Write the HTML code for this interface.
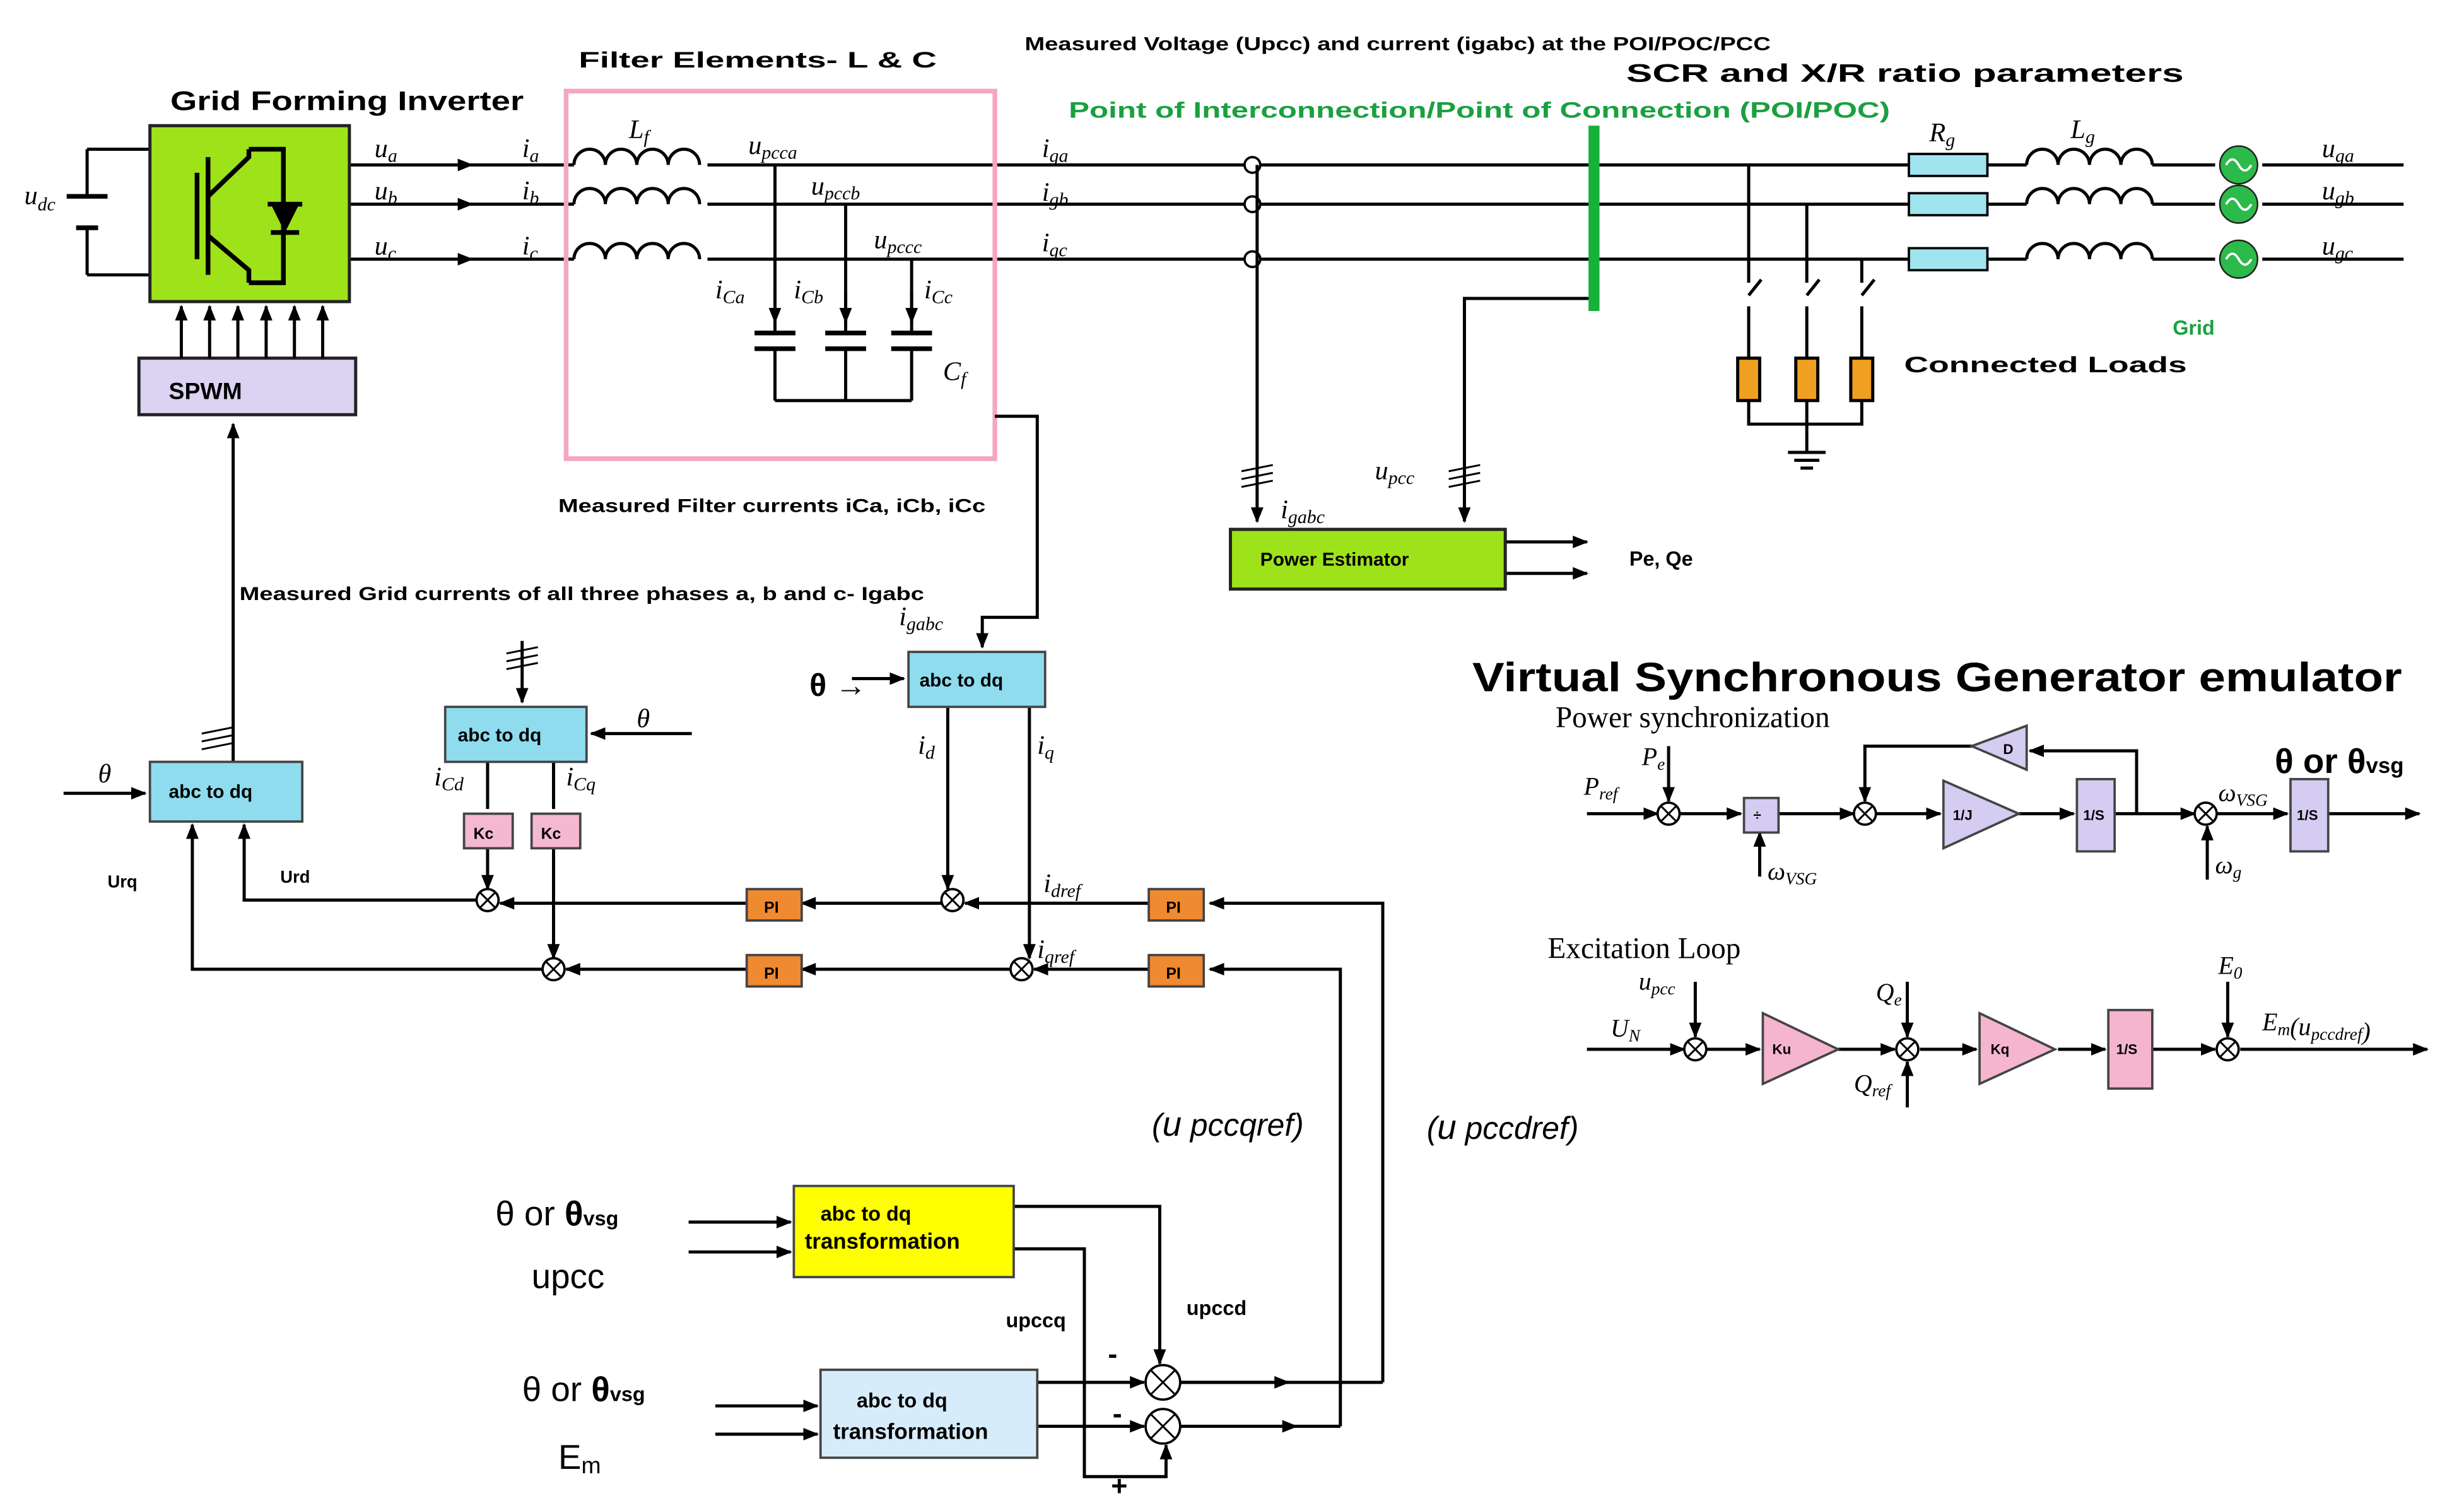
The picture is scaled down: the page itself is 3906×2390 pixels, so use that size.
<!DOCTYPE html>
<html><head><meta charset="utf-8"><style>
html,body{margin:0;padding:0;background:#fff;}
svg{display:block}
.b{font-family:"Liberation Sans",sans-serif;font-weight:bold;}
.m{font-family:"Liberation Serif",serif;font-style:italic;}
.s{font-family:"Liberation Serif",serif;}
</style></head><body>
<svg width="3906" height="2390" viewBox="0 0 1568 960" xmlns="http://www.w3.org/2000/svg">
<defs><marker id="a" viewBox="0 0 10 10" refX="9" refY="5" markerWidth="5" markerHeight="5" orient="auto"><path d="M0,1 L10,5 L0,9 z" fill="#000"/></marker></defs>
<g stroke="#000" stroke-width="2" fill="none">
<path d="M55,95 H95 M55,175 H95 M55,95 V125 M55,145 V175"/>
<path d="M42,125 H68 M48,145 H62" stroke-width="3"/>
<path d="M300,105 H365 M300,130 H365 M300,165 H365"/>
<path d="M450,105 H1215 M450,130 H1215 M450,165 H1215"/>
<path d="M1265,105 H1290 M1265,130 H1290 M1265,165 H1290 M1370,105 H1410 M1370,130 H1410 M1370,165 H1410 M1440,105 H1530 M1440,130 H1530 M1440,165 H1530"/>
<path d="M365,105 a10,10 0 0 1 20,0 a10,10 0 0 1 20,0 a10,10 0 0 1 20,0 a10,10 0 0 1 20,0 M365,130 a10,10 0 0 1 20,0 a10,10 0 0 1 20,0 a10,10 0 0 1 20,0 a10,10 0 0 1 20,0 M365,165 a10,10 0 0 1 20,0 a10,10 0 0 1 20,0 a10,10 0 0 1 20,0 a10,10 0 0 1 20,0"/>
<path d="M1290,105 a10,10 0 0 1 20,0 a10,10 0 0 1 20,0 a10,10 0 0 1 20,0 a10,10 0 0 1 20,0 M1290,130 a10,10 0 0 1 20,0 a10,10 0 0 1 20,0 a10,10 0 0 1 20,0 a10,10 0 0 1 20,0 M1290,165 a10,10 0 0 1 20,0 a10,10 0 0 1 20,0 a10,10 0 0 1 20,0 a10,10 0 0 1 20,0"/>
<path d="M493,105 V212 M493,222 V255 M538,130 V212 M538,222 V255 M580,165 V212 M580,222 V255 M493,255 H580"/>
<path d="M480,212 H506 M480,222 H506 M525,212 H551 M525,222 H551 M567,212 H593 M567,222 H593" stroke-width="3"/>
</g>
<g stroke="#000" stroke-width="2" fill="none" marker-end="url(#a)">
<path d="M222,105 H300"/><path d="M222,130 H300"/><path d="M222,165 H300"/>
<path d="M493,185 V205"/><path d="M538,185 V205"/><path d="M580,185 V205"/>
</g>
<rect x="360" y="58" width="273" height="234" fill="none" stroke="#f4a6c4" stroke-width="3"/>
<rect x="95" y="80" width="127" height="112" fill="#9ee21a" stroke="#222" stroke-width="2"/>
<g stroke="#000" stroke-width="3" fill="none">
<path d="M125,110 V165 M132,100 V175 M132,125 L158,100 V95 M132,150 L158,172 V180 M158,95 H180 V180 H158"/>
<path d="M170,130 H192 M172,148 H190"/>
</g>
<path d="M172,130 L190,130 L181,148 z" fill="#000"/>
<rect x="88" y="228" width="138" height="36" fill="#dcd3f3" stroke="#222" stroke-width="2"/>
<text x="107" y="254" class="b" font-size="15">SPWM</text>
<g stroke="#000" stroke-width="2" marker-end="url(#a)">
<path d="M115,228 V195"/><path d="M133,228 V195"/><path d="M151,228 V195"/><path d="M169,228 V195"/><path d="M187,228 V195"/><path d="M205,228 V195"/>
</g>
<g fill="#fff" stroke="#000" stroke-width="1.5"><circle cx="797" cy="105" r="5"/><circle cx="797" cy="130" r="5"/><circle cx="797" cy="165" r="5"/></g>
<g stroke="#000" stroke-width="2" fill="none" marker-end="url(#a)">
<path d="M800,105 V332"/>
<path d="M1015,190 H932 V332"/>
<path d="M958,345 H1010"/><path d="M958,365 H1010"/>
</g>
<rect x="1011" y="80" width="7" height="118" fill="#17b03a"/>
<g fill="#9fe4ee" stroke="#000" stroke-width="1.5"><rect x="1215" y="98" width="50" height="14"/><rect x="1215" y="123" width="50" height="14"/><rect x="1215" y="158" width="50" height="14"/></g>
<g fill="#2cba4a" stroke="#222"><circle cx="1425" cy="105" r="12"/><circle cx="1425" cy="130" r="12"/><circle cx="1425" cy="165" r="12"/></g>
<g stroke="#fff" stroke-width="1.5" fill="none"><path d="M1417,105 q4,-7 8,0 t8,0 M1417,130 q4,-7 8,0 t8,0 M1417,165 q4,-7 8,0 t8,0"/></g>
<g stroke="#000" stroke-width="2" fill="none">
<path d="M1113,105 V180 M1113,188 l8,-10 M1113,195 V228 M1150,130 V180 M1150,188 l8,-10 M1150,195 V228 M1185,165 V180 M1185,188 l8,-10 M1185,195 V228"/>
<path d="M1113,255 V270 H1185 V255 M1150,255 V288 M1138,288 H1162 M1142,293 H1158 M1146,298 H1154"/>
</g>
<g fill="#f0a020" stroke="#000" stroke-width="2"><rect x="1106" y="228" width="14" height="27"/><rect x="1143" y="228" width="14" height="27"/><rect x="1178" y="228" width="14" height="27"/></g>
<rect x="783" y="337" width="175" height="38" fill="#9ee21a" stroke="#222" stroke-width="2"/>
<text x="802" y="360" class="b" font-size="12">Power Estimator</text>
<text x="108" y="70" class="b" font-size="17" textLength="225" lengthAdjust="spacingAndGlyphs">Grid Forming Inverter</text>
<text x="368" y="43" class="b" font-size="14" textLength="228" lengthAdjust="spacingAndGlyphs">Filter Elements- L &amp; C</text>
<text x="652" y="32" class="b" font-size="12" textLength="475" lengthAdjust="spacingAndGlyphs">Measured Voltage (Upcc) and current (igabc) at the POI/POC/PCC</text>
<text x="1035" y="52" class="b" font-size="16" textLength="355" lengthAdjust="spacingAndGlyphs">SCR and X/R ratio parameters</text>
<text x="680" y="75" class="b" font-size="14" fill="#1aa040" textLength="523" lengthAdjust="spacingAndGlyphs">Point of Interconnection/Point of Connection (POI/POC)</text>
<text x="1383" y="213" class="b" font-size="13" fill="#1aa040">Grid</text>
<text x="1212" y="237" class="b" font-size="14" textLength="180" lengthAdjust="spacingAndGlyphs">Connected Loads</text>
<text x="355" y="326" class="b" font-size="12" textLength="272" lengthAdjust="spacingAndGlyphs">Measured Filter currents iCa, iCb, iCc</text>
<text x="152" y="382" class="b" font-size="12" textLength="436" lengthAdjust="spacingAndGlyphs">Measured Grid currents of all three phases a, b and c- Igabc</text>
<text x="1037" y="360" class="b" font-size="13">Pe, Qe</text>
<g class="m" font-size="17">
<text x="15" y="130">u<tspan font-size="12" dy="4">dc</tspan></text>
<text x="238" y="100">u<tspan font-size="12" dy="3">a</tspan></text>
<text x="238" y="127">u<tspan font-size="12" dy="3">b</tspan></text>
<text x="238" y="162">u<tspan font-size="12" dy="3">c</tspan></text>
<text x="332" y="100">i<tspan font-size="12" dy="3">a</tspan></text>
<text x="332" y="127">i<tspan font-size="12" dy="3">b</tspan></text>
<text x="332" y="162">i<tspan font-size="12" dy="3">c</tspan></text>
<text x="400" y="88">L<tspan font-size="12" dy="3">f</tspan></text>
<text x="476" y="98">u<tspan font-size="12" dy="3">pcca</tspan></text>
<text x="516" y="124">u<tspan font-size="12" dy="3">pccb</tspan></text>
<text x="556" y="158">u<tspan font-size="12" dy="3">pccc</tspan></text>
<text x="455" y="190">i<tspan font-size="12" dy="3">Ca</tspan></text>
<text x="505" y="190">i<tspan font-size="12" dy="3">Cb</tspan></text>
<text x="588" y="190">i<tspan font-size="12" dy="3">Cc</tspan></text>
<text x="600" y="242">C<tspan font-size="12" dy="3">f</tspan></text>
<text x="663" y="100">i<tspan font-size="12" dy="3">ga</tspan></text>
<text x="663" y="128">i<tspan font-size="12" dy="3">gb</tspan></text>
<text x="663" y="160">i<tspan font-size="12" dy="3">gc</tspan></text>
<text x="1228" y="90">R<tspan font-size="12" dy="3">g</tspan></text>
<text x="1318" y="88">L<tspan font-size="12" dy="3">g</tspan></text>
<text x="1478" y="100">u<tspan font-size="12" dy="3">ga</tspan></text>
<text x="1478" y="127">u<tspan font-size="12" dy="3">gb</tspan></text>
<text x="1478" y="162">u<tspan font-size="12" dy="3">gc</tspan></text>
<text x="815" y="330">i<tspan font-size="12" dy="3">gabc</tspan></text>
<text x="875" y="305">u<tspan font-size="12" dy="3">pcc</tspan></text>
<text x="572" y="398">i<tspan font-size="12" dy="3">gabc</tspan></text>
<text x="405" y="463">θ</text>
<text x="62" y="498">θ</text>
<text x="276" y="500">i<tspan font-size="12" dy="3">Cd</tspan></text>
<text x="360" y="500">i<tspan font-size="12" dy="3">Cq</tspan></text>
<text x="584" y="480">i<tspan font-size="12" dy="3">d</tspan></text>
<text x="660" y="480">i<tspan font-size="12" dy="3">q</tspan></text>
<text x="664" y="568">i<tspan font-size="12" dy="3">dref</tspan></text>
<text x="660" y="610">i<tspan font-size="12" dy="3">qref</tspan></text>
</g>
<g stroke="#000" stroke-width="1.2"><path d="M790,300 l20,-4 M790,305 l20,-4 M790,310 l20,-4 M922,300 l20,-4 M922,305 l20,-4 M922,310 l20,-4 M322,416 l20,-4 M322,421 l20,-4 M322,426 l20,-4 M128,467 l20,-4 M128,472 l20,-4 M128,477 l20,-4"/></g>
<g stroke="#000" stroke-width="2" fill="none">
<path d="M310,485 V515 M352,485 V515"/>
<path d="M751,880 H880 M751,908 H853"/>
</g>
<g stroke="#000" stroke-width="2" fill="none" marker-end="url(#a)">
<path d="M148,485 V270"/>
<path d="M633,265 H660 V393 H625 V412"/>
<path d="M542,432 H575"/>
<path d="M332,408 V447"/>
<path d="M440,467 H376"/>
<path d="M40,505 H92"/>
<path d="M310,540 V566"/><path d="M352,540 V610"/>
<path d="M603,450 V566"/><path d="M655,450 V610"/>
<path d="M303,573 H155 V525"/>
<path d="M345,617 H122 V525"/>
<path d="M475,575 H318"/><path d="M475,617 H360"/><path d="M599,575 H510"/><path d="M643,617 H510"/>
<path d="M731,575 H614"/><path d="M731,617 H658"/>
<path d="M880,880 V575 H770"/><path d="M853,908 V617 H770"/>
<path d="M438,778 H503"/><path d="M438,797 H503"/>
<path d="M455,895 H520"/><path d="M455,913 H520"/>
<path d="M645,768 H738 V868"/>
<path d="M645,795 H690 V940 H742 V920"/>
<path d="M751,880 H820"/><path d="M751,908 H825"/>
<path d="M660,880 H728"/><path d="M660,908 H728"/>
</g>
<g fill="#fff" stroke="#000" stroke-width="1.5">
<circle cx="310" cy="573" r="7"/><circle cx="352" cy="617" r="7"/><circle cx="606" cy="573" r="7"/><circle cx="650" cy="617" r="7"/>
<circle cx="740" cy="880" r="11"/><circle cx="740" cy="908" r="11"/>
</g>
<g stroke="#000" stroke-width="1.2"><path d="M305,568 l10,10 M315,568 l-10,10 M347,612 l10,10 M357,612 l-10,10 M601,568 l10,10 M611,568 l-10,10 M645,612 l10,10 M655,612 l-10,10 M732,872 l16,16 M748,872 l-16,16 M732,900 l16,16 M748,900 l-16,16"/></g>
<g stroke="#444" stroke-width="1.5">
<rect x="95" y="485" width="97" height="38" fill="#8fdcef"/>
<rect x="283" y="450" width="90" height="35" fill="#8fdcef"/>
<rect x="578" y="415" width="87" height="35" fill="#8fdcef"/>
<rect x="295" y="518" width="31" height="22" fill="#f4b8d0"/>
<rect x="338" y="518" width="31" height="22" fill="#f4b8d0"/>
<rect x="475" y="566" width="35" height="20" fill="#f08a30"/>
<rect x="475" y="608" width="35" height="20" fill="#f08a30"/>
<rect x="731" y="566" width="35" height="20" fill="#f08a30"/>
<rect x="731" y="608" width="35" height="20" fill="#f08a30"/>
<rect x="505" y="755" width="140" height="58" fill="#ffff00"/>
<rect x="522" y="872" width="138" height="56" fill="#d6ecfa"/>
</g>
<g class="b" font-size="12">
<text x="107" y="508">abc to dq</text>
<text x="291" y="472">abc to dq</text>
<text x="585" y="437">abc to dq</text>
<text x="301" y="534" font-size="10">Kc</text><text x="344" y="534" font-size="10">Kc</text>
<text x="486" y="581" font-size="10">PI</text><text x="486" y="623" font-size="10">PI</text>
<text x="742" y="581" font-size="10">PI</text><text x="742" y="623" font-size="10">PI</text>
<text x="68" y="565" font-size="11">Urq</text>
<text x="178" y="562" font-size="11">Urd</text>
<text x="522" y="777" font-size="13">abc to dq</text>
<text x="512" y="795" font-size="14">transformation</text>
<text x="545" y="896" font-size="13">abc to dq</text>
<text x="530" y="916" font-size="14">transformation</text>
<text x="640" y="845" font-size="13">upccq</text>
<text x="755" y="837" font-size="13">upccd</text>
<text x="705" y="868" font-size="18">-</text>
<text x="708" y="906" font-size="18">-</text>
<text x="707" y="952" font-size="18">+</text>
</g>
<text x="515" y="443" class="b" font-size="20">θ →</text>
<g font-family="Liberation Sans,sans-serif" font-size="22">
<text x="315" y="780">θ or <tspan font-weight="bold">θ</tspan><tspan font-size="13" font-weight="bold">vsg</tspan></text>
<text x="338" y="820">upcc</text>
<text x="332" y="892">θ or <tspan font-weight="bold">θ</tspan><tspan font-size="13" font-weight="bold">vsg</tspan></text>
<text x="355" y="935">E<tspan font-size="15" dy="3">m</tspan></text>
</g>
<g font-family="Liberation Sans,sans-serif" font-style="italic" font-size="20">
<text x="733" y="723">(<tspan font-size="22">u</tspan> pccqref)</text>
<text x="908" y="725">(<tspan font-size="22">u</tspan> pccdref)</text>
</g>
<text x="937" y="440" class="b" font-size="26" textLength="592" lengthAdjust="spacingAndGlyphs">Virtual Synchronous Generator emulator</text>
<text x="990" y="463" class="s" font-size="19">Power synchronization</text>
<text x="1448" y="492" class="b" font-size="22">θ or θ<tspan font-size="14">vsg</tspan></text>
<g stroke="#000" stroke-width="2" fill="none" marker-end="url(#a)">
<path d="M1010,518 H1055"/><path d="M1069,518 H1108"/><path d="M1132,518 H1180"/><path d="M1194,518 H1235"/><path d="M1285,518 H1320"/><path d="M1346,518 H1397"/><path d="M1411,518 H1456"/><path d="M1482,518 H1540"/>
<path d="M1062,475 V510"/><path d="M1120,558 V530"/><path d="M1405,560 V526"/>
<path d="M1360,518 V478 H1292"/><path d="M1258,475 H1187 V510"/>
<path d="M1010,668 H1072"/><path d="M1086,668 H1120"/><path d="M1170,668 H1206"/><path d="M1222,668 H1258"/><path d="M1310,668 H1340"/><path d="M1370,668 H1410"/><path d="M1426,668 H1545"/>
<path d="M1079,625 V660"/><path d="M1214,625 V660"/><path d="M1214,705 V676"/><path d="M1418,625 V660"/>
</g>
<g fill="#fff" stroke="#000" stroke-width="1.5">
<circle cx="1062" cy="518" r="7"/><circle cx="1187" cy="518" r="7"/><circle cx="1404" cy="518" r="7"/>
<circle cx="1079" cy="668" r="7"/><circle cx="1214" cy="668" r="7"/><circle cx="1418" cy="668" r="7"/>
</g>
<g stroke="#000" stroke-width="1.2"><path d="M1057,513 l10,10 M1067,513 l-10,10 M1182,513 l10,10 M1192,513 l-10,10 M1399,513 l10,10 M1409,513 l-10,10 M1074,663 l10,10 M1084,663 l-10,10 M1209,663 l10,10 M1219,663 l-10,10 M1413,663 l10,10 M1423,663 l-10,10"/></g>
<g stroke="#444" stroke-width="1.5">
<rect x="1110" y="508" width="22" height="22" fill="#d5ccf2"/>
<path d="M1237,497 L1285,518 L1237,540 z" fill="#d5ccf2"/>
<rect x="1322" y="496" width="24" height="46" fill="#d5ccf2"/>
<path d="M1290,462 L1255,475 L1290,490 z" fill="#d5ccf2"/>
<rect x="1458" y="496" width="24" height="46" fill="#d5ccf2"/>
<path d="M1122,645 L1170,668 L1122,690 z" fill="#f5b5cf"/>
<path d="M1260,645 L1308,668 L1260,690 z" fill="#f5b5cf"/>
<rect x="1342" y="643" width="28" height="50" fill="#f5b5cf"/>
</g>
<g class="b" font-size="9">
<text x="1116" y="522">÷</text><text x="1243" y="522">1/J</text><text x="1326" y="522">1/S</text><text x="1275" y="480">D</text><text x="1462" y="522">1/S</text>
<text x="1128" y="671">Ku</text><text x="1267" y="671">Kq</text><text x="1347" y="671">1/S</text>
</g>
<g class="m" font-size="16">
<text x="1008" y="506">P<tspan font-size="11" dy="3">ref</tspan></text>
<text x="1045" y="487">P<tspan font-size="11" dy="3">e</tspan></text>
<text x="1125" y="560">ω<tspan font-size="11" dy="3">VSG</tspan></text>
<text x="1412" y="510">ω<tspan font-size="11" dy="3">VSG</tspan></text>
<text x="1410" y="556">ω<tspan font-size="11" dy="3">g</tspan></text>
<text x="1043" y="630">u<tspan font-size="11" dy="3">pcc</tspan></text>
<text x="1025" y="660">U<tspan font-size="11" dy="3">N</tspan></text>
<text x="1194" y="637">Q<tspan font-size="11" dy="3">e</tspan></text>
<text x="1180" y="695">Q<tspan font-size="11" dy="3">ref</tspan></text>
<text x="1412" y="620">E<tspan font-size="11" dy="3">0</tspan></text>
<text x="1440" y="656">E<tspan font-size="11" dy="3">m</tspan>(u<tspan font-size="11" dy="3">pccdref</tspan>)</text>
</g>
<text x="985" y="610" class="s" font-size="19">Excitation Loop</text>
</svg>
</body></html>
